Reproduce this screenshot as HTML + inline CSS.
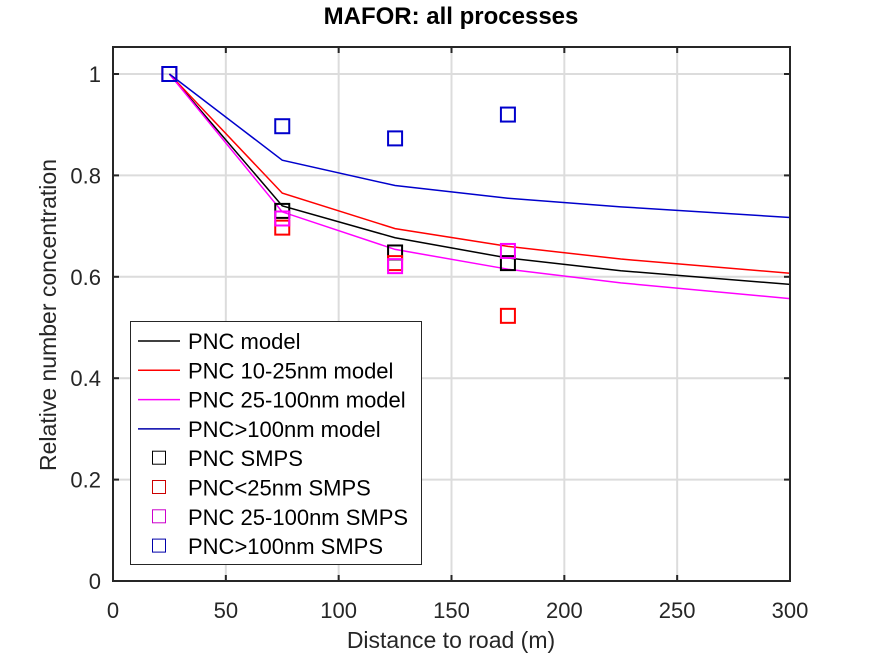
<!DOCTYPE html>
<html><head><meta charset="utf-8"><style>
body{margin:0;background:#fff;}
svg text{font-family:"Liberation Sans",Arial,sans-serif;}
</style></head><body>
<svg id="chart" width="872" height="654" viewBox="0 0 872 654" xmlns="http://www.w3.org/2000/svg">
<rect width="872" height="654" fill="#fff"/>
<g id="grid"></g>
<g id="series"></g>
<g id="axes"></g>
<g id="legend"></g>
</svg>
<script>
const modelX = [25, 75, 125, 175, 225, 300];
const pncModel = [1, 0.740, 0.677, 0.637, 0.612, 0.585];
const pnc10Model = [1, 0.765, 0.695, 0.660, 0.635, 0.607];
const pnc25Model = [1, 0.728, 0.654, 0.615, 0.588, 0.557];
const pnc100Model = [1, 0.830, 0.780, 0.755, 0.738, 0.717];
const smpsX = [25, 75, 125, 175];
const pncSmps = [1, 0.730, 0.648, 0.627];
const pnc25Smps = [1, 0.697, 0.627, 0.523];
const pnc25_100Smps = [1, 0.715, 0.621, 0.651];
const pnc100Smps = [1, 0.897, 0.873, 0.920];
const xTicks = [0, 50, 100, 150, 200, 250, 300];
const yTicks = [0, 0.2, 0.4, 0.6, 0.8, 1];
const yTickLabels = ["0", "0.2", "0.4", "0.6", "0.8", "1"];

const X0 = 113, X1 = 790, Y0 = 581, Y1 = 74, TOP = 47;
const xs = v => X0 + (X1 - X0) * v / 300;
const ys = v => Y0 - (Y0 - Y1) * v;
const NS = "http://www.w3.org/2000/svg";
function mk(tag, attrs, parent, text) {
  const e = document.createElementNS(NS, tag);
  for (const k in attrs) e.setAttribute(k, attrs[k]);
  if (text !== undefined) e.textContent = text;
  parent.appendChild(e);
  return e;
}
const grid = document.getElementById('grid');
const series = document.getElementById('series');
const axes = document.getElementById('axes');
const legend = document.getElementById('legend');

xTicks.forEach(t => {
  const l = mk('line', {x1: xs(t), x2: xs(t), y1: TOP, y2: Y0, stroke: '#dcdcdc', 'stroke-width': 2}, grid);
  
  
});
yTicks.forEach(t => {
  const l = mk('line', {x1: X0, x2: X1, y1: ys(t), y2: ys(t), stroke: '#dcdcdc', 'stroke-width': 2}, grid);
  
  
});

const models = [[pncModel, '#000', 'pnc-model-line'], [pnc10Model, '#f00', 'pnc-10-25nm-model-line'], [pnc25Model, '#f0f', 'pnc-25-100nm-model-line'], [pnc100Model, '#00c', 'pnc-over-100nm-model-line']];
models.forEach(m => {
  const p = mk('polyline', {points: modelX.map((x, i) => xs(x) + ',' + ys(m[0][i])).join(' '), fill: 'none', stroke: m[1], 'stroke-width': 1.5}, series);
  
  
});
const smps = [[pncSmps, '#000', 'pnc-smps-marker'], [pnc25Smps, '#f00', 'pnc-under-25nm-smps-marker'], [pnc25_100Smps, '#f0f', 'pnc-25-100nm-smps-marker'], [pnc100Smps, '#00c', 'pnc-over-100nm-smps-marker']];
smps.forEach(s => {
  smpsX.forEach((x, i) => {
    const r = mk('rect', {x: xs(x) - 7, y: ys(s[0][i]) - 7, width: 14, height: 14, fill: 'none', stroke: s[1], 'stroke-width': 2}, series);
    
    
  });
});

const box = mk('rect', {x: X0, y: TOP, width: X1 - X0, height: Y0 - TOP, fill: 'none', stroke: '#262626', 'stroke-width': 2}, axes);


xTicks.forEach(t => {
  mk('line', {x1: xs(t), x2: xs(t), y1: Y0, y2: Y0 - 6, stroke: '#262626', 'stroke-width': 2}, axes);
  mk('line', {x1: xs(t), x2: xs(t), y1: TOP, y2: TOP + 6, stroke: '#262626', 'stroke-width': 2}, axes);
  const tx = mk('text', {x: xs(t), y: 618, 'font-size': 22, fill: '#262626', 'text-anchor': 'middle'}, axes, String(t));
  
  
});
yTicks.forEach((t, i) => {
  mk('line', {x1: X0, x2: X0 + 6, y1: ys(t), y2: ys(t), stroke: '#262626', 'stroke-width': 2}, axes);
  mk('line', {x1: X1, x2: X1 - 6, y1: ys(t), y2: ys(t), stroke: '#262626', 'stroke-width': 2}, axes);
  const tx = mk('text', {x: 101, y: ys(t) + 8, 'font-size': 22, fill: '#262626', 'text-anchor': 'end'}, axes, yTickLabels[i]);
  
  
});

const legItems = [['line', '#000', 'PNC model'], ['line', '#f00', 'PNC 10-25nm model'], ['line', '#f0f', 'PNC 25-100nm model'], ['line', '#00a', 'PNC>100nm model'], ['sq', '#000', 'PNC SMPS'], ['sq', '#c00', 'PNC<25nm SMPS'], ['sq', '#c0c', 'PNC 25-100nm SMPS'], ['sq', '#00a', 'PNC>100nm SMPS']];
const lb = mk('rect', {x: 130.5, y: 321.5, width: 291, height: 243, fill: '#fff', stroke: '#262626', 'stroke-width': 1}, legend);


legItems.forEach((it, i) => {
  const y = 341 + i * 29.3;
  if (it[0] === 'line') mk('line', {x1: 138, x2: 180, y1: y, y2: y, stroke: it[1], 'stroke-width': 1.5}, legend);
  else mk('rect', {x: 152.5, y: y - 7, width: 13, height: 13, fill: 'none', stroke: it[1], 'stroke-width': 1}, legend);
  const tx = mk('text', {x: 188, y: y + 8, 'font-size': 22, fill: '#000'}, legend, it[2]);
  
  
});
</script>
<svg style="position:absolute;left:0;top:0" width="872" height="654">
<text x="451" y="24" font-size="24" font-weight="bold" text-anchor="middle" fill="#000" font-family="Liberation Sans, sans-serif">MAFOR: all processes</text>
<text x="451" y="648" font-size="23" text-anchor="middle" fill="#262626" font-family="Liberation Sans, sans-serif">Distance to road (m)</text>
<text x="0" y="0" transform="translate(56,315) rotate(-90)" font-size="23" text-anchor="middle" fill="#262626" font-family="Liberation Sans, sans-serif">Relative number concentration</text>
</svg>
</body></html>
